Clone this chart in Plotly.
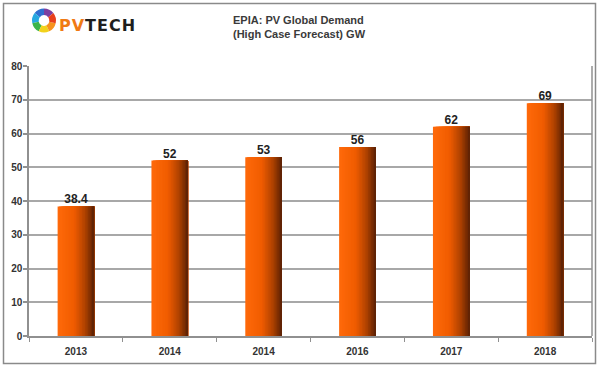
import plotly.graph_objects as go

# ---- data ----
categories = ["2013", "2014", "2014", "2016", "2017", "2018"]
demand_gw = [38.4, 52, 53, 56, 62, 69]
value_labels = ["38.4", "52", "53", "56", "62", "69"]
y_ticks = [0, 10, 20, 30, 40, 50, 60, 70, 80]
logo_segments = [1, 1, 1, 1, 1, 1, 1]
logo_colors = ["#7b3fa0", "#2f6fd0", "#26a9e0", "#3cb44b", "#f2d21b", "#f7931e", "#e8401c"]

W, H = 600, 368
PL, PR, PT, PB = 29, 592, 66, 336   # plot area edges in px

def fx(p):
    return p / W

def fy(p):
    return 1 - p / H

xpos = list(range(len(categories)))

fig = go.Figure()

# gradient bars: stacked overlays, each starting further right
bar_w = 0.39
n = 24
stops = [(0.0, (255, 106, 10)), (0.45, (240, 92, 0)), (0.75, (176, 66, 0)), (1.0, (90, 32, 4))]

def col(t):
    for (t0, c0), (t1, c1) in zip(stops[:-1], stops[1:]):
        if t0 <= t <= t1:
            f = (t - t0) / (t1 - t0)
            return "rgb(%d,%d,%d)" % tuple(round(a + (b - a) * f) for a, b in zip(c0, c1))
    return "rgb(%d,%d,%d)" % stops[-1][1]

sw = bar_w / n
for i in range(n):
    fig.add_trace(go.Bar(
        x=xpos, y=demand_gw,
        width=bar_w - i * sw, offset=-bar_w / 2 + i * sw,
        marker=dict(color=col((i + 0.5) / n), line=dict(width=0)),
        showlegend=False, hoverinfo="skip",
    ))

fig.add_trace(go.Scatter(
    x=xpos, y=demand_gw, mode="text", text=["<b>%s</b>" % v for v in value_labels],
    textposition="top center",
    textfont=dict(family="Liberation Sans, Arial, sans-serif", size=12, color="#222222"),
    showlegend=False, hoverinfo="skip", cliponaxis=False,
))

# logo ring
fig.add_trace(go.Pie(
    values=logo_segments, marker=dict(colors=logo_colors, line=dict(width=0)),
    hole=0.45, sort=False, textinfo="none", showlegend=False, hoverinfo="skip",
    domain=dict(x=[fx(32), fx(56)], y=[fy(33), fy(8)]),
))

fig.update_layout(
    width=W, height=H,
    margin=dict(l=0, r=0, t=0, b=0, pad=0),
    paper_bgcolor="white", plot_bgcolor="white",
    barmode="overlay",
    font=dict(family="Liberation Sans, Arial, sans-serif", color="#333333"),
    xaxis=dict(
        domain=[fx(PL), fx(PR)], automargin=False,
        range=[-0.5, len(categories) - 0.5],
        tickmode="array", tickvals=xpos, ticktext=["<b>%s</b>" % c for c in categories],
        ticks="", showgrid=False, zeroline=False, ticklabelstandoff=5,
        showline=True, linecolor="#909090", linewidth=1.5,
        tickfont=dict(size=10, color="#333333"),
        minor=dict(ticks="outside", tick0=0.5, dtick=1, ticklen=4, tickcolor="#909090", tickwidth=1, showgrid=False),
    ),
    yaxis=dict(
        domain=[fy(PB), fy(PT)], automargin=False,
        range=[0, 80], tickmode="array", tickvals=y_ticks,
        ticktext=["<b>%d</b>" % v for v in y_ticks],
        ticks="outside", ticklen=4, tickcolor="#909090", tickwidth=1.5,
        ticklabelstandoff=-1,
        showgrid=True, gridcolor="#a8a8a8", gridwidth=1.5,
        zeroline=False, showline=True, linecolor="#909090", linewidth=1.5,
        tickfont=dict(size=10, color="#333333"),
    ),
    annotations=[
        dict(xref="paper", yref="paper", x=fx(231), y=fy(12), xanchor="left", yanchor="top",
             align="left", showarrow=False,
             text="<b>EPIA: PV Global Demand<br>(High Case Forecast) GW</b>",
             font=dict(size=11, color="#3a3a3a")),
        dict(xref="paper", yref="paper", x=fx(57), y=fy(25), xanchor="left", yanchor="middle",
             showarrow=False,
             text="<b><span style='color:#f07a14;letter-spacing:1px'>PV</span>"
                  "<span style='color:#1e1e1e;letter-spacing:1px'>TECH</span></b>",
             font=dict(size=16, family="DejaVu Sans, sans-serif")),
    ],
    shapes=[
        dict(type="rect", xref="paper", yref="paper",
             x0=fx(3.5), x1=fx(595.5), y0=fy(363.5), y1=fy(3.5),
             line=dict(color="#8a8a8a", width=1.5), layer="above"),
        dict(type="line", xref="paper", yref="paper", x0=fx(PR), x1=fx(PR), y0=fy(PB), y1=fy(PT),
             line=dict(color="#909090", width=1.5)),
    ],
)

fig.write_html("out.html", config={"displayModeBar": False},
               post_script="document.body.style.margin='0';")
